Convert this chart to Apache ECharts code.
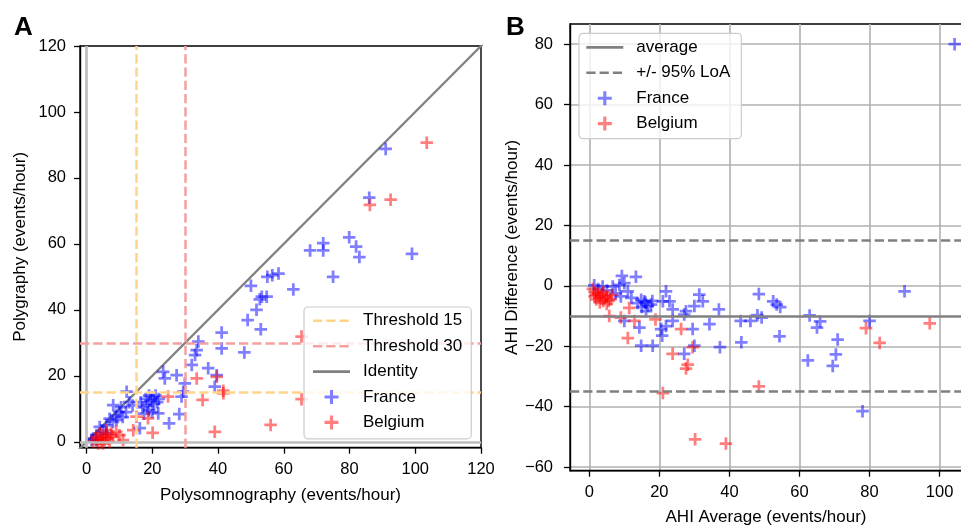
<!DOCTYPE html>
<html>
<head>
<meta charset="utf-8">
<script src="https://cdn.jsdelivr.net/npm/echarts@6/dist/echarts.min.js"></script>
<style>
  html, body { margin: 0; padding: 0; background: #fff; }
  #chart { width: 961px; height: 526px; }
</style>
</head>
<body>
<div id="chart"></div>
<script>
// panel A: polysomnography (x) vs polygraphy (y), events/hour
const franceA = [
  [91, 88.8], [86, 74], [79.9, 62], [82, 59.2], [83, 56], [99, 57], [72, 60.2], [72, 58], [68, 58], [75, 50],
  [55, 50], [56.5, 50.5], [58.4, 51], [50, 47.3], [62.9, 46.2], [53.3, 44], [54.8, 44], [52.7, 43.2], [51.7, 40], [49, 36.9],
  [53, 34.1], [41.1, 33.1], [41.1, 28.3], [48, 27.1], [34, 30.4], [33.5, 27.8], [33, 26.3], [32, 23.3], [37, 22.3], [39.6, 20.2],
  [23.3, 21.2], [23.8, 19.2], [27.4, 20.2], [29.9, 17.7], [39, 16.7], [29.4, 15.2], [28.9, 13.7], [21.8, 8.6], [28.2, 8.4], [25.1, 5.6],
  [16.2, 4.1], [12.2, 15.2], [8.1, 11.1], [9.1, 6.6],
  [16.5, 12], [17, 10.5], [18, 13], [18.5, 11], [19, 14], [19.5, 12.5], [20, 13.5], [20.5, 11.5], [21, 14], [21.5, 12], [22, 13],
  [17.5, 8.5], [19, 9.5], [20, 9],
  [2, 1], [3, 2], [4, 4.5], [5, 3], [6, 5], [7, 7], [8, 6], [9, 8], [10, 9], [10.5, 10.5], [11, 7.5], [12, 9], [13, 12], [14, 11],
  [1.5, 0.5], [3, 0.5], [6, 2.5]
];
const belgiumA = [
  [103.5, 90.7], [86.2, 71.8], [92.5, 73.4], [65.4, 31.9], [65.4, 12.9], [56, 5.1], [39, 3], [41.6, 14.7], [41.6, 15.5], [39.6, 19.7],
  [33.5, 19.2], [35.3, 12.7], [24.8, 13.7], [15.2, 7.6], [18.7, 7.1], [14.2, 3.5], [20.1, 2.7], [11.1, 0.5],
  [2, 0], [3, 0.5], [3.5, -0.5], [4, 1], [4.5, 0], [5, 1.5], [5.5, 0.5], [6, 2], [6.5, 1], [7, 0], [7.5, 2.5], [8, 1.5],
  [4, 2.5], [5, -0.5], [3, 1.5], [9, 3], [10, 2], [6, 3.5]
];

// panel B: Bland-Altman, mean (x) vs difference (y)
const franceB = [
  [104.3, 80], [90, -1.8], [78, -41.5], [80, -11.6], [62.9, -9.8], [65.9, -11.8], [65, -13.8], [70.9, -17.8], [70.4, -22.7], [69.5, -26.5],
  [62.4, -24.7], [48.4, -2.7], [52.5, -5.1], [53.5, -6.2], [54.5, -7], [48, -9.7], [49.2, -10.5], [46, -11.6], [43.2, -11.6], [54.3, -16.7],
  [43.4, -18.7], [37.3, -20.3], [37, -7.8], [34.3, -12.7], [29.5, -14.3], [30, -19.8], [27.1, -22.5], [31.4, -2.9], [32.4, -5.1], [30, -6.7],
  [27.6, -8.4], [27.1, -9.5], [23.8, -11.6], [21.9, -13.3], [20.5, -14.3], [20.8, -16.5], [14.8, -19.8], [18.1, -19.8], [14.3, -13.8], [10, -11.6],
  [21.9, -1.8], [21, -5.1], [22.9, -5.1], [23.8, -7.8],
  [9.3, 3.3], [13.3, 3.0], [1.4, 0.2], [3.8, -0.2], [6.7, -0.2], [8.6, 0.3], [10, 0.9], [11, -1.8], [2.5, -1], [5, -1.5], [7.5, -2.5],
  [9, -3.5], [12, -4], [14.8, -4.6], [15.7, -5.1], [16.7, -6.7], [13.8, -5.7], [17.6, -6.2], [16.2, -8.4], [15, -7], [18, -5], [16, -5.5]
];
const belgiumB = [
  [1, -1], [1.5, -2], [2, -3], [2.5, -2.5], [3, -4], [3.5, -3], [4, -5], [4.5, -4], [5, -3.5], [5.5, -5], [6, -4.5],
  [2, -4.5], [3, -5.5], [4, -2], [1.5, -3.5], [5, -6], [6.5, -3],
  [5.7, -10], [9, -10.5], [11.4, -7.3], [12.9, -11.6], [11, -17.3], [18.9, -11.1], [26.2, -14.3], [23.8, -22.5], [29.5, -20.3],
  [28.1, -26.1], [27.6, -27.4], [21, -35.5], [48.4, -33.3], [30.2, -50.8], [39, -52.2], [79, -14], [82.9, -18.9], [97.2, -12.4]
];

const thresholds = [15, 30];
const identityLine = [[-5, -5], [125, 125]];
const baAverage = -10;
const baLoA = [15, -35];

const ticksA = [0, 20, 40, 60, 80, 100, 120];
const ticksBx = [0, 20, 40, 60, 80, 100];
const ticksBy = [-60, -40, -20, 0, 20, 40, 60, 80];

const FONT = '"Liberation Sans", Arial, sans-serif';
const PLUS = 'path://M3.9,0H6.1V3.9H10V6.1H6.1V10H3.9V6.1H0V3.9H3.9Z';
const minus = v => String(v).replace('-', '\u2212');

function axis(gridIndex, min, max, ticks, name, nameGap, margin, grid) {
  return {
    gridIndex, type: 'value', min, max, name,
    nameLocation: 'middle', nameGap,
    nameTextStyle: { fontSize: 17, color: '#000', fontFamily: FONT },
    axisLine: { onZero: false, lineStyle: { color: '#000', width: 1.4 } },
    axisTick: { length: 6, lineStyle: { color: '#000', width: 1.3 }, customValues: ticks },
    axisLabel: { customValues: ticks, fontSize: 16.5, color: '#000', fontFamily: FONT, margin, formatter: minus },
    splitLine: { show: grid, lineStyle: { color: '#b0b0b0', width: 1.6 } }
  };
}

function scatter(name, data, color, idx) {
  return {
    name, type: 'scatter', data, xAxisIndex: idx, yAxisIndex: idx,
    symbol: PLUS, symbolSize: 12.5,
    itemStyle: { color, opacity: 0.5 }, z: 4
  };
}

function refLines(name, lines, color, width, dash, idx, z) {
  return {
    name, type: 'line', data: [], xAxisIndex: idx, yAxisIndex: idx,
    symbol: 'none', z,
    lineStyle: { color, width, type: dash },
    itemStyle: { color },
    markLine: {
      silent: true, symbol: 'none', animation: false,
      label: { show: false },
      lineStyle: { color, width, type: dash },
      data: lines
    }
  };
}

// line entries in the legend: no marker on the handle
const lineItem = name => ({ name, itemStyle: { opacity: 0 }, lineStyle: { width: 2.6 } });

const legendBase = {
  orient: 'vertical', itemWidth: 37, itemHeight: 14, itemGap: 8.4, z: 10,
  backgroundColor: 'rgba(255,255,255,0.8)', borderColor: '#cccccc', borderWidth: 1.2, borderRadius: 4,
  selectedMode: false,
  textStyle: { fontSize: 17, color: '#000', fontFamily: FONT, padding: [0, 0, 0, 8] }
};

const chart = echarts.init(document.getElementById('chart'), null, { renderer: 'canvas' });
chart.setOption({
  animation: false,
  textStyle: { fontFamily: FONT },
  title: [
    { text: 'A', left: 9, top: 10, textStyle: { fontSize: 26, fontWeight: 'bold', color: '#000', fontFamily: FONT } },
    { text: 'B', left: 501, top: 10, textStyle: { fontSize: 26, fontWeight: 'bold', color: '#000', fontFamily: FONT } }
  ],
  grid: [
    { left: 80, top: 46, width: 401, height: 401.7, show: true, borderColor: '#000', borderWidth: 1.4, outerBoundsMode: 'none' },
    { left: 570, top: 24, width: 392, height: 446.7, show: true, borderColor: '#000', borderWidth: 1.4, outerBoundsMode: 'none' }
  ],
  xAxis: [
    axis(0, -2, 120, ticksA, 'Polysomnography (events/hour)', 39, 13, false),
    axis(1, -5.51, 106.4, ticksBx, 'AHI Average (events/hour)', 38.5, 13, true)
  ],
  yAxis: [
    axis(0, -1.8, 120, ticksA, 'Polygraphy (events/hour)', 51, 14, false),
    axis(1, -61.2, 86.7, ticksBy, 'AHI Difference (events/hour)', 39, 17, true)
  ],
  legend: [
    Object.assign({}, legendBase, {
      data: [lineItem('Threshold 15'), lineItem('Threshold 30'), lineItem('Identity'), 'France', 'Belgium'],
      left: 304, top: 307, padding: [5.3, 9, 7.9, 7.7]
    }),
    Object.assign({}, legendBase, {
      data: [lineItem('average'), lineItem('+/- 95% LoA'), 'France', 'Belgium'],
      left: 579, top: 33.3, padding: [5.6, 11, 6.6, 6]
    })
  ],
  series: [
    refLines('', [{ xAxis: 0 }, { yAxis: 0 }], '#bdbdbd', 2.7, 'solid', 0, 1),
    refLines('Threshold 15', [{ xAxis: thresholds[0] }, { yAxis: thresholds[0] }], '#ffd48a', 2.5, [9.25, 4], 0, 2),
    refLines('Threshold 30', [{ xAxis: thresholds[1] }, { yAxis: thresholds[1] }], '#f2a0a0', 2.5, [9.25, 4], 0, 2),
    {
      name: 'Identity', type: 'line', data: identityLine, xAxisIndex: 0, yAxisIndex: 0,
      symbol: 'none', clip: true, z: 3,
      lineStyle: { color: '#808080', width: 2.3 }, itemStyle: { color: '#808080' }
    },
    scatter('France', franceA, '#0000ff', 0),
    scatter('Belgium', belgiumA, '#ff0000', 0),
    refLines('average', [{ yAxis: baAverage }], '#808080', 2.5, 'solid', 1, 3),
    refLines('+/- 95% LoA', baLoA.map(v => ({ yAxis: v })), '#808080', 2.5, [9.25, 4], 1, 3),
    scatter('France', franceB, '#0000ff', 1),
    scatter('Belgium', belgiumB, '#ff0000', 1)
  ]
});
</script>
</body>
</html>
